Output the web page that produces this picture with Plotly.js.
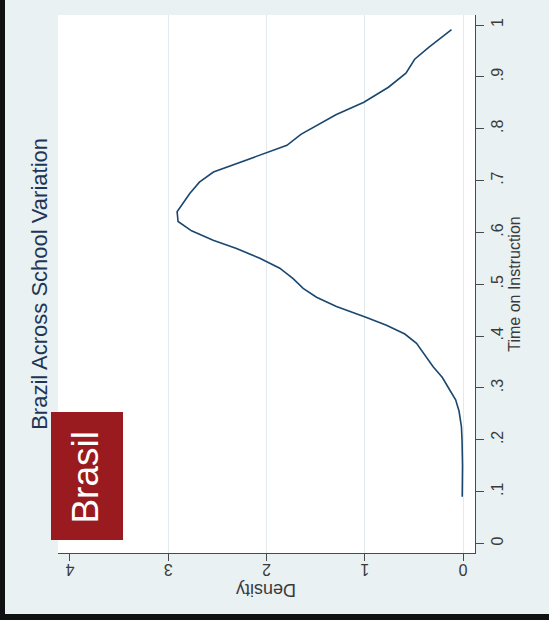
<!DOCTYPE html>
<html>
<head>
<meta charset="utf-8">
<script src="https://cdn.plot.ly/plotly-3.0.1.min.js"></script>
<style>
  html, body { margin: 0; padding: 0; background: #0f1210; width: 549px; height: 620px; overflow: hidden; }
  #chart { position: absolute; left: 5px; top: 0; width: 544px; height: 614px; }
</style>
</head>
<body>
<div id="chart"></div>
<script>
// Kernel density of time on instruction (Brazil)
const timeOnInstruction = [0.090, 0.120, 0.150, 0.200, 0.225, 0.255, 0.277, 0.296, 0.320, 0.341, 0.386, 0.404, 0.421, 0.436, 0.457, 0.475, 0.492, 0.511, 0.531, 0.550, 0.569, 0.585, 0.603, 0.621, 0.640, 0.675, 0.697, 0.7165, 0.742, 0.768, 0.789, 0.806, 0.827, 0.851, 0.865, 0.880, 0.907, 0.934, 0.957, 0.991];
const density = [0.008, 0.005, 0.005, 0.010, 0.016, 0.040, 0.075, 0.135, 0.210, 0.304, 0.473, 0.592, 0.779, 0.982, 1.288, 1.491, 1.627, 1.729, 1.865, 2.068, 2.305, 2.543, 2.763, 2.900, 2.910, 2.781, 2.683, 2.540, 2.170, 1.792, 1.650, 1.489, 1.294, 1.009, 0.884, 0.759, 0.581, 0.492, 0.349, 0.117];

const densityTicks = [0, 1, 2, 3, 4];
const densityTickText = ['0', '1', '2', '3', '4'];
const densityGrid = [0, 1, 2, 3];
const timeTicks = [0, 0.1, 0.2, 0.3, 0.4, 0.5, 0.6, 0.7, 0.8, 0.9, 1];
const timeTickText = ['0', '.1', '.2', '.3', '.4', '.5', '.6', '.7', '.8', '.9', '1'];

const titleText = 'Brazil Across School Variation';
const xTitleText = 'Time on Instruction';
const yTitleText = 'Density';
const badgeText = 'Brasil';

const FONT = 'Liberation Sans, Arial, sans-serif';
const NARROW = 'Liberation Sans Narrow, Arial Narrow, Liberation Sans, sans-serif';
const densityRange = [4.122, -0.122];
const timeRange = [-0.0183, 1.0193];

const traces = [
  {
    x: density, y: timeOnInstruction,
    type: 'scatter', mode: 'lines',
    line: { color: '#1a476f', width: 1.6 },
    hoverinfo: 'skip', showlegend: false
  },
  {
    x: [], y: [], xaxis: 'x2', yaxis: 'y',
    type: 'scatter', mode: 'lines', hoverinfo: 'skip', showlegend: false
  }
];

const layout = {
  width: 544, height: 614,
  margin: { l: 53, r: 74, t: 15, b: 61, pad: 0 },
  paper_bgcolor: '#e9f1f3',
  plot_bgcolor: '#ffffff',
  showlegend: false,
  font: { family: FONT, color: '#3a3a3a' },
  xaxis: {
    range: densityRange,
    tickvals: densityTicks, ticktext: densityTickText,
    tickangle: 180,
    ticks: 'outside', ticklen: 7, tickwidth: 1, tickcolor: '#4a4a4a',
    showline: true, linecolor: '#4a4a4a', linewidth: 1,
    showgrid: false, zeroline: false,
    tickfont: { family: FONT, size: 16, color: '#3a3a3a' },
    fixedrange: true
  },
  xaxis2: {
    overlaying: 'x', anchor: 'y',
    range: densityRange,
    tickvals: densityGrid,
    showgrid: true, gridcolor: '#e2eaee', gridwidth: 1,
    showticklabels: false, ticks: '', showline: false, zeroline: false,
    fixedrange: true
  },
  yaxis: {
    side: 'right',
    range: timeRange,
    tickvals: timeTicks, ticktext: timeTickText,
    tickangle: -90,
    ticks: 'outside', ticklen: 8, tickwidth: 1, tickcolor: '#4a4a4a',
    showline: true, linecolor: '#4a4a4a', linewidth: 1,
    showgrid: false, zeroline: false,
    tickfont: { family: FONT, size: 16, color: '#3a3a3a' },
    title: { text: xTitleText, font: { family: FONT, size: 16, color: '#3a3a3a' }, standoff: 3 },
    fixedrange: true
  },
  shapes: [
    {
      type: 'rect', xref: 'paper', yref: 'paper', layer: 'above',
      x0: -0.0168, x1: 0.1559, y0: 0.0242, y1: 0.262,
      fillcolor: '#9a1b1f', line: { width: 0 }
    }
  ],
  annotations: [
    {
      text: titleText, xref: 'paper', yref: 'paper',
      x: -0.046, y: 0.5, xanchor: 'center', yanchor: 'middle',
      textangle: -90, showarrow: false,
      font: { family: NARROW, size: 22, color: '#1f3556' }
    },
    {
      text: yTitleText, xref: 'paper', yref: 'paper',
      x: 0.5, y: -0.069, xanchor: 'center', yanchor: 'middle',
      textangle: 180, showarrow: false,
      font: { family: FONT, size: 18, color: '#3a3a3a' }
    },
    {
      text: badgeText, xref: 'paper', yref: 'paper',
      x: 0.0671, y: 0.142, xanchor: 'center', yanchor: 'middle',
      textangle: -90, showarrow: false,
      font: { family: NARROW, size: 37, color: '#ffffff' }
    }
  ]
};

Plotly.newPlot('chart', traces, layout, { displayModeBar: false, staticPlot: true });
</script>
</body>
</html>
